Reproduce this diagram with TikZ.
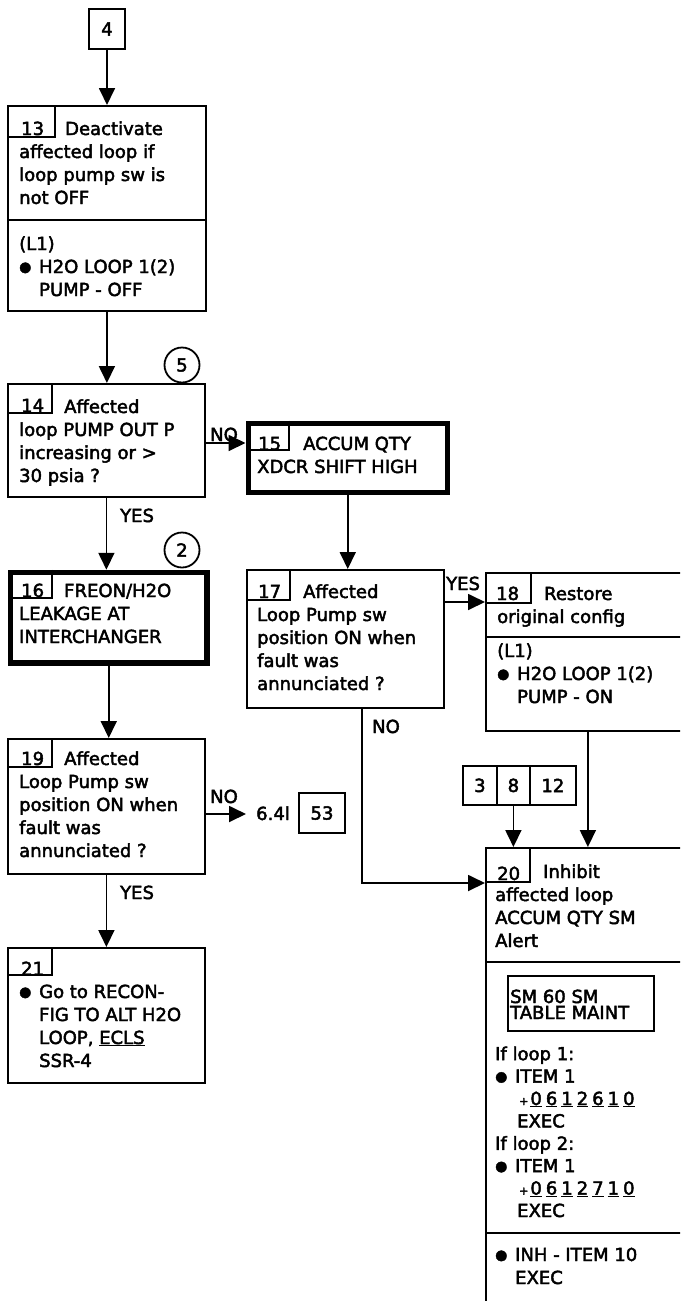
\documentclass[tikz,border=0pt]{standalone}
\usepackage{fontspec}
\setmainfont{DejaVu Sans}[FakeBold=2.5]
\usetikzlibrary{arrows.meta, positioning}
\newcommand{\flowfont}{\fontsize{18}{23}\selectfont}
\newcommand{\blt}{\makebox[20pt][l]{\raisebox{1.5pt}{\fontsize{14}{14}\selectfont ●}}}
\newcommand{\dig}[1]{\underline{#1}\hspace{4pt}}
\newcommand{\plus}{{\fontsize{11}{11}\selectfont +}\hspace{2pt}}

\begin{document}
\begin{tikzpicture}[x=1pt, y=-1pt, font=\flowfont,
  stepbox/.style={draw, line width=1.8pt, anchor=north west, inner sep=0pt},
  alarmbox/.style={draw, line width=5.5pt, anchor=north west, inner sep=0pt},
  txt/.style={anchor=base west, align=left, inner sep=0pt},
  lbl/.style={anchor=base west, inner sep=0pt},
  conn/.style={draw, circle, line width=1.8pt, minimum size=35pt, inner sep=0pt},
  flow/.style={line width=1.8pt, -{Triangle[width=16pt,length=17pt]}}]
  \useasboundingbox (0,0) rectangle (680,1301);
  \clip (0,0) rectangle (680,1301);
  % text nodes sit on the baseline of their last line

  % entry
  \node[stepbox, anchor=center, minimum width=36pt, minimum height=40pt] (s4) at (107,29) {4};

  % step 13
  \node[stepbox, minimum width=198pt, minimum height=205pt] (s13) at (7,105) {};
  \draw[line width=1.8pt] (s13.west |- 0,220) -- (s13.east |- 0,220);
  \node[txt] (n13) at (21,135) {13};
  \node[txt] (t13) at (19,204) {\hspace*{46pt}Deactivate\\affected loop if\\loop pump sw is\\not OFF};
  \node[txt] (a13) at (19,296) {(L1)\\\blt H2O LOOP 1(2)\\\hspace*{20pt}PUMP - OFF};

  % step 14
  \node[stepbox, minimum width=197pt, minimum height=113pt] (s14) at (7,383) {};
  \node[conn] (c5) at (182,365) {5};
  \node[txt] (n14) at (21,412) {14};
  \node[txt] (t14) at (19,482) {\hspace*{45pt}Affected\\loop PUMP OUT P\\increasing or >\\30 psia ?};

  % step 15
  \node[alarmbox, minimum width=199pt, minimum height=69pt] (s15) at (245.5,420.5) {};
  \node[txt] (n15) at (258,450) {15};
  \node[txt] (t15) at (257,473) {\hspace*{46pt}ACCUM QTY\\XDCR SHIFT HIGH};

  % step 16
  \node[conn] (c2) at (182,550) {2};
  \node[alarmbox, minimum width=196.5pt, minimum height=90.5pt] (s16) at (7.75,569.75) {};
  \node[txt] (n16) at (21,597) {16};
  \node[txt] (t16) at (19,643) {\hspace*{45pt}FREON/H2O\\LEAKAGE AT\\INTERCHANGER};

  % step 17
  \node[stepbox, minimum width=197pt, minimum height=138pt] (s17) at (246,569) {};
  \node[txt] (n17) at (258,598) {17};
  \node[txt] (t17) at (257,690) {\hspace*{46pt}Affected\\Loop Pump sw\\position ON when\\fault was\\annunciated ?};

  % step 18
  \node[stepbox, minimum width=204pt, minimum height=158pt] (s18) at (485,572) {};
  \draw[line width=1.8pt] (s18.west |- 0,637) -- (s18.east |- 0,637);
  \node[txt] (n18) at (496,600) {18};
  \node[txt] (t18) at (497,623) {\hspace*{47pt}Restore\\original config};
  \node[txt] (a18) at (497,703) {(L1)\\\blt H2O LOOP 1(2)\\\hspace*{20pt}PUMP - ON};

  % step 19
  \node[stepbox, minimum width=197pt, minimum height=135pt] (s19) at (7,738) {};
  \node[txt] (n19) at (21,765) {19};
  \node[txt] (t19) at (19,857) {\hspace*{45pt}Affected\\Loop Pump sw\\position ON when\\fault was\\annunciated ?};
  \node[lbl] (r64) at (256,820) {6.4l};
  \node[stepbox, anchor=center, minimum width=46pt, minimum height=40pt] (s53) at (322,813) {53};

  % step 20
  \foreach \n/\x/\w in {3/462/34, 8/496/33, 12/529/46}
    \node[stepbox, minimum width=\w pt, minimum height=39pt] (r\n) at (\x,765) {\n};
  \node[stepbox, minimum width=204pt, minimum height=480pt] (s20) at (485,847) {};
  \draw[line width=1.8pt] (s20.west |- 0,962) -- (s20.east |- 0,962);
  \draw[line width=1.8pt] (s20.west |- 0,1233) -- (s20.east |- 0,1233);
  \node[txt] (n20) at (497,880) {20};
  \node[txt] (t20) at (495,947) {\hspace*{48pt}Inhibit\\affected loop\\ACCUM QTY SM\\Alert};
  \node[stepbox, minimum width=146pt, minimum height=55pt] (sm60) at (507,975) {};
  \node[txt, font=\fontsize{18}{16}\selectfont] (tsm60) at (510,1019) {SM 60 SM\\TABLE MAINT};
  \node[txt, font=\fontsize{18}{22.4}\selectfont] (i20) at (495,1217) {If loop 1:\\\blt ITEM 1\\\hspace*{24pt}\plus\dig0\dig6\dig1\dig2\dig6\dig1\dig0\\\hspace*{22pt}EXEC\\If loop 2:\\\blt ITEM 1\\\hspace*{24pt}\plus\dig0\dig6\dig1\dig2\dig7\dig1\dig0\\\hspace*{22pt}EXEC};
  \node[txt] (x20) at (495,1284) {\blt INH - ITEM 10\\\hspace*{20pt}EXEC};

  % step 21
  \node[stepbox, minimum width=197pt, minimum height=135pt] (s21) at (7,947) {};
  \node[txt] (n21) at (21,975) {21};
  \node[txt] (t21) at (19,1067) {\blt Go to RECON-\\\hspace*{20pt}FIG TO ALT H2O\\\hspace*{20pt}LOOP, \underline{ECLS}\\\hspace*{20pt}SSR-4};

  % number tabs
  \foreach \b/\w/\h in {s13/48/32, s14/45/30, s15/43.5/29.5, s16/44/28, s17/44/31, s18/46/31, s19/45/29, s20/45/35, s21/45/28}
    \draw[line width=1.5pt] (\b.north west) ++(\w,0) |- ++(-\w,\h);

  % connectors
  \draw[flow] (s4.south) -- (s4.south |- s13.north);
  \draw[flow] (s13.south) -- (s13.south |- s14.north);
  \draw[flow] (s14.east |- 0,443) -- (s15.west |- 0,443);
  \node[lbl] (no14) at (210,441) {NO};
  \draw[flow] (s14.south) -- (s14.south |- s16.north);
  \node[lbl] (yes14) at (120,522) {YES};
  \draw[flow] (s15.south) -- (s15.south |- s17.north);
  \draw[flow] (s17.east |- 0,602) -- (s18.west |- 0,602);
  \node[lbl] (yes17) at (446,590) {YES};
  \draw[flow] (s16.south) -- (s16.south |- s19.north);
  \draw[flow, shorten >=10pt] (s19.east |- 0,814) -- (r64.west |- 0,814);
  \node[lbl] (no19) at (210,803) {NO};
  \draw[flow] (s19.south) -- (s19.south |- s21.north);
  \node[lbl] (yes19) at (120,899) {YES};
  \draw[flow] (r8.south) -- (r8.south |- s20.north);
  \draw[flow] (s18.south) -- (s18.south |- s20.north);
  \draw[flow] ([xshift=16.5pt]s17.south) |- (s20.west |- 0,883);
  \node[lbl] (no17) at (372,733) {NO};
\end{tikzpicture}
\end{document}
